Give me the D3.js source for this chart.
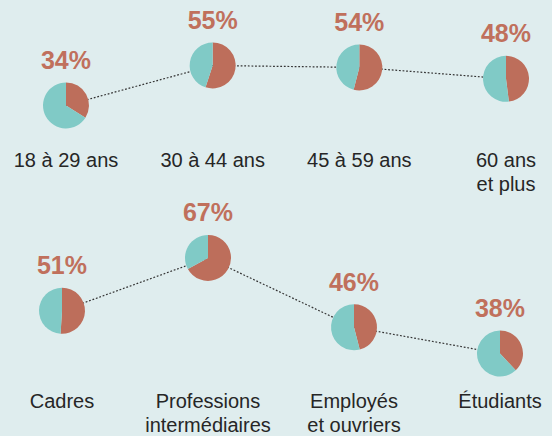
<!DOCTYPE html>
<html>
<head>
<meta charset="utf-8">
<script src="https://cdn.jsdelivr.net/npm/d3@7"></script>
<style>
  html, body { margin: 0; padding: 0; background: #dfedee; }
  svg { display: block; }
</style>
</head>
<body>
<svg id="chart" width="552" height="436"></svg>
<script>
// Data
const ageCategories = ["18 à 29 ans", "30 à 44 ans", "45 à 59 ans", "60 ans\net plus"];
const ageValues = [34, 55, 54, 48];
const proCategories = ["Cadres", "Professions\nintermédiaires", "Employés\net ouvriers", "Étudiants"];
const proValues = [51, 67, 46, 38];

const colors = { yes: "#bd6e5b", no: "#80cac6", pct: "#c0705c", text: "#262626", line: "#333333" };

const svg = d3.select("#chart");
const W = 552, H = 436;
svg.append("rect").attr("width", W).attr("height", H).attr("fill", "#dfedee");

const R = 23;
const pie = d3.pie().sort(null).value(d => d);
const arc = d3.arc().innerRadius(0).outerRadius(R);

function drawRow(cats, vals, xRange, yDomain, yRange, labelY) {
  const x = d3.scalePoint().domain(cats).range(xRange);
  const y = d3.scaleLinear().domain(yDomain).range(yRange);
  const g = svg.append("g");
  const pts = cats.map((c, i) => [x(c), y(vals[i])]);

  g.append("path")
    .attr("d", d3.line()(pts))
    .attr("fill", "none")
    .attr("stroke", colors.line)
    .attr("stroke-width", 1.2)
    .attr("stroke-dasharray", "1.8,1.8");

  cats.forEach((c, i) => {
    const cx = x(c), cy = y(vals[i]);
    const pg = g.append("g").attr("transform", `translate(${cx},${cy})`);
    pg.selectAll("path")
      .data(pie([vals[i], 100 - vals[i]]))
      .join("path")
      .attr("d", arc)
      .attr("fill", (d, j) => j === 0 ? colors.yes : colors.no);

    g.append("text")
      .attr("x", cx)
      .attr("y", cy - R - 13.5)
      .attr("text-anchor", "middle")
      .attr("font-family", "'Liberation Sans', Arial, sans-serif")
      .attr("font-weight", "bold")
      .attr("font-size", 25)
      .attr("fill", colors.pct)
      .text(vals[i] + "%");

    const lines = c.split("\n");
    const t = g.append("text")
      .attr("text-anchor", "middle")
      .attr("font-family", "'Liberation Sans', Arial, sans-serif")
      .attr("font-size", 20)
      .attr("fill", colors.text);
    lines.forEach((ln, k) => {
      t.append("tspan").attr("x", cx).attr("y", labelY + k * 23.5).text(ln);
    });
  });
}

drawRow(ageCategories, ageValues, [66, 506], [30, 60], [113, 56], 167);
drawRow(proCategories, proValues, [62, 500], [30, 70], [380, 248], 408);
</script>
</body>
</html>
